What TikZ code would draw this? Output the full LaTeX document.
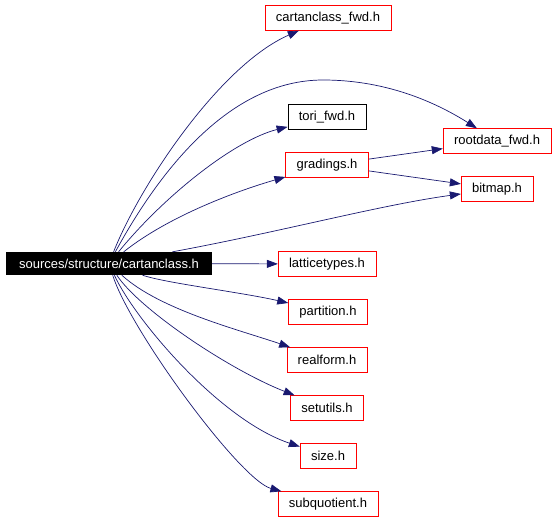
\documentclass[tikz,border=0pt]{standalone}
\usepackage{fontspec}
\setmainfont{Liberation Sans}
\usetikzlibrary{arrows.meta}
\definecolor{edgeblue}{RGB}{25,25,112}

\begin{document}
\begin{tikzpicture}[x=1pt, y=-1pt,
    file/.style={draw=red, inner xsep=11pt, minimum height=25pt, font=\fontsize{13}{15}\selectfont},
    dep/.style={edgeblue, line width=0.7pt, -{Triangle[length=11pt, width=8pt]}}]
    \useasboundingbox (0,0) rectangle (557,520);

    \node[fill=black, text=white, inner xsep=13pt, minimum height=23pt,
          font=\fontsize{13}{15}\selectfont] (root) at (109,263.5) {sources/structure/cartanclass.h};

    \node[file] (cfwd) at (328,18) {cartanclass\_fwd.h};
    \node[file, draw=black] (tori) at (327,117) {tori\_fwd.h};
    \node[file] (grad) at (327,165) {gradings.h};
    \node[file] (rfwd) at (497,141) {rootdata\_fwd.h};
    \node[file] (bitmap) at (497,189) {bitmap.h};
    \node[file] (lattice) at (327,264) {latticetypes.h};
    \node[file] (part) at (328,312) {partition.h};
    \node[file] (real) at (327,360) {realform.h};
    \node[file] (setu) at (327,408) {setutils.h};
    \node[file] (size) at (328,456) {size.h};
    \node[file] (subq) at (328,504) {subquotient.h};

    % upper fan
    \draw[dep] (root) .. controls (140,185) and (220,65) .. (cfwd);
    \draw[dep] (root) .. controls (160,170) and (230,80) .. (323,80)
               .. controls (390,80) and (440,105) .. (rfwd);
    \draw[dep] (root) .. controls (165,195) and (235,140) .. (tori);
    \draw[dep] (root) .. controls (170,215) and (240,190) .. (grad);
    \draw[dep] (root) .. controls (280,232) and (380,205) .. (bitmap);
    \draw[dep] (grad) -- (rfwd);
    \draw[dep] (grad) -- (bitmap);

    % lower fan
    \draw[dep] (root) -- (lattice);
    \draw[dep] (root) .. controls (165,283) and (240,292) .. (part);
    \draw[dep] (root) .. controls (160,310) and (240,330) .. (real);
    \draw[dep] (root) .. controls (140,310) and (230,370) .. (setu);
    \draw[dep] (root) .. controls (135,320) and (220,420) .. (size);
    \draw[dep] (root) .. controls (130,330) and (240,480) .. (subq);
\end{tikzpicture}
\end{document}
